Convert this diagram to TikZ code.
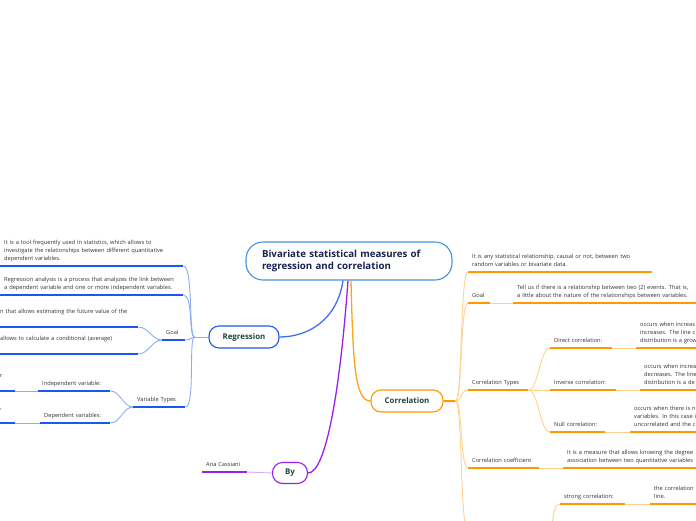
\documentclass[tikz,border=0pt]{standalone}
\usepackage{fontspec}
\setmainfont{Open Sans}
\usetikzlibrary{positioning,calc}

\definecolor{regblue}{RGB}{28,88,240}
\definecolor{reglight}{RGB}{140,172,248}
\definecolor{corrorange}{RGB}{255,153,0}
\definecolor{corrlight}{RGB}{255,210,145}
\definecolor{bypurple}{RGB}{155,30,240}
\definecolor{bylight}{RGB}{218,170,248}
\definecolor{titleblue}{RGB}{66,146,222}
\definecolor{titletext}{RGB}{22,34,80}
\definecolor{maintext}{RGB}{30,70,60}
\definecolor{leaftext}{RGB}{50,50,50}

\begin{document}
\begin{tikzpicture}[x=1pt,y=-1pt,
	leaf/.style={anchor=south west, inner xsep=4pt, inner ysep=2.4pt, align=left,
			font=\fontsize{5.7}{8.4}\selectfont, text=leaftext, execute at end node=\strut},
	topic/.style={draw, fill=white, rounded corners=10pt, line width=1.1pt,
			minimum height=22pt, inner xsep=2pt,
			font=\fontsize{7.9}{9}\selectfont\bfseries, text=maintext},
	regul/.style={regblue, line width=1.3pt},
	regline/.style={reglight, line width=0.9pt},
	corrul/.style={corrorange, line width=1.3pt},
	corrline/.style={corrlight, line width=0.9pt},
	byul/.style={bypurple, line width=1.3pt},
	byline/.style={bylight, line width=0.9pt}]

\useasboundingbox (0,0) rectangle (696,520);
\clip (0,0) rectangle (696,520);

\pgfmathsetmacro{\junc}{14}
\pgfmathsetmacro{\bend}{10}

% CENTRAL TOPIC
\node(title)[draw=titleblue, fill=white, line width=1.1pt, rounded corners=17pt,
			text width=174pt, inner xsep=16pt, minimum height=38pt, align=left,
			font=\fontsize{9.7}{12.8}\selectfont\bfseries, text=titletext]
			at (349,261) {Bivariate statistical measures of\\regression and correlation};

% MAIN TOPICS
\node(reg)[topic, draw=regblue, minimum width=70pt] at (244,337) {Regression};
\node(corr)[topic, draw=corrorange, minimum width=72pt] at (407,401) {Correlation};
\node(by)[topic, draw=bypurple, minimum width=35pt, minimum height=21pt] at (290,473) {By};

\draw[line width=1.3pt, regblue!85!white] ($(title.south)+(-6,0)$) .. controls +(-6,40) and +(28,0) .. (reg.east);
\draw[line width=1.3pt, bypurple] ($(title.south)+(-1,0)$) .. controls +(-8,110) and +(18,0) .. (by.east);
\draw[line width=1.3pt, corrorange!90!white] ($(title.south)+(2,0)$) .. controls +(2,80) and +(-16,0) .. (corr.west);

% REGRESSION
\node(reg1)[leaf, text width=175pt] at (0,266) {It is a tool frequently used in statistics, which allows to\\investigate the relationships between different quantitative\\dependent variables.};
\node(reg2)[leaf, text width=175pt] at (0,295) {Regression analysis is a process that analyzes the link between\\a dependent variable and one or more independent variables.};
\node(reggoal)[leaf, text width=15pt] at (162,340) {Goal};
\node(goal1)[leaf, text width=134pt] at (-4,327) {n that allows estimating the future value of the\\\mbox{}};
\node(goal2)[leaf, text width=134pt] at (-4,354) {allows to calculate a conditional (average)\\\mbox{}};
\node(vtypes)[leaf, text width=44pt] at (133,407) {Variable Types};
\node(indep)[leaf, text width=64pt] at (38,391) {Independent variable:};
\node(dep)[leaf, text width=62pt] at (40,423) {Dependent variables:};
\node(indepdef)[leaf, anchor=south east, text width=40pt] at (15,391) {\hspace*{29.4pt}r\\\mbox{}};
\node(depdef)[leaf, anchor=south east, text width=40pt] at (15,423) {\hspace*{29.4pt},\\\mbox{}};

\coordinate (regjunc) at ($(reg.west)+(-\junc,0)$);
\draw[regline] (regjunc) -- (reg.west);
\draw[regline] (reg1.south east) .. controls +(\bend,0) and +(-6,0) .. (regjunc);
\draw[regline] (reg2.south east) .. controls +(\bend,0) and +(-6,0) .. (regjunc);
\draw[regline] (reggoal.south east) .. controls +(6,0) and +(-4,0) .. (regjunc);
\draw[regline] (vtypes.south east) .. controls +(\bend,0) and +(-6,0) .. (regjunc);
\draw[regline] (goal1.south east) .. controls +(\bend,0) and +(-\bend,0) .. (reggoal.south west);
\draw[regline] (goal2.south east) .. controls +(\bend,0) and +(-\bend,0) .. (reggoal.south west);
\draw[regline] (indep.south east) .. controls +(\bend,0) and +(-\bend,0) .. (vtypes.south west);
\draw[regline] (dep.south east) .. controls +(\bend,0) and +(-\bend,0) .. (vtypes.south west);
\draw[regline] (indepdef.south east) -- (indep.south west);
\draw[regline] (depdef.south east) -- (dep.south west);

\draw[regul] (reg1.south west) -- (reg1.south east);
\draw[regul] (reg2.south west) -- (reg2.south east);
\draw[regul] (reggoal.south west) -- (reggoal.south east);
\draw[regul] (goal1.south west) -- (goal1.south east);
\draw[regul] (goal2.south west) -- (goal2.south east);
\draw[regul] (vtypes.south west) -- (vtypes.south east);
\draw[regul] (indep.south west) -- (indep.south east);
\draw[regul] (dep.south west) -- (dep.south east);
\draw[regul] (indepdef.south west) -- (indepdef.south east);
\draw[regul] (depdef.south west) -- (depdef.south east);

% CORRELATION
\node(corr1)[leaf, text width=176pt] at (468,272) {It is any statistical relationship, causal or not, between two\\random variables or bivariate data.};
\node(corrgoal)[leaf, text width=14pt] at (468,303) {Goal};
\node(goaltxt)[leaf, text width=220pt] at (513,303) {Tell us if there is a relationship between two (2) events. That is,\\a little about the nature of the relationships between variables.};
\node(corrtypes)[leaf, text width=52pt] at (468,390) {Correlation Types};
\node(direct)[leaf, text width=54pt] at (550,348) {Direct correlation:};
\node(directtxt)[leaf, text width=220pt] at (636,348) {occurs when increas\\increases. The line c\\distribution is a grow};
\node(inverse)[leaf, text width=58pt] at (550,390) {Inverse correlation:};
\node(inversetxt)[leaf, text width=220pt] at (640,390) {occurs when increa\\decreases. The line\\distribution is a de};
\node(null)[leaf, text width=47pt] at (550,432) {Null correlation:};
\node(nulltxt)[leaf, text width=220pt] at (630,432) {occurs when there is n\\variables. In this case i\\uncorrelated and the c};
\node(corrcoef)[leaf, text width=63pt] at (468,468) {Correlation coefficient};
\node(coeftxt)[leaf, text width=220pt] at (563,468) {It is a measure that allows knowing the degree\\association between two quantitative variables};
\node(strong)[leaf, text width=57pt] at (560,504) {strong correlation:};
\node(strongtxt)[leaf, text width=220pt] at (650,504) {the correlation\\line.};
\coordinate (degree) at (468,532);
\coordinate (degree-e) at (546,532);

\coordinate (corrjunc) at ($(corr.east)+(12,0)$);
\draw[corrul] (corr.east) -- (corrjunc);
\draw[corrline] (corrjunc) .. controls +(7,0) and +(-8,0) .. (corr1.south west);
\draw[corrline] (corrjunc) .. controls +(7,0) and +(-8,0) .. (corrgoal.south west);
\draw[corrline] (corrjunc) .. controls +(7,0) and +(-8,0) .. (corrtypes.south west);
\draw[corrline] (corrjunc) .. controls +(7,0) and +(-8,0) .. (corrcoef.south west);
\draw[corrline] (corrjunc) .. controls +(7,0) and +(-8,0) .. (degree);
\draw[corrline] (corrgoal.south east) -- (goaltxt.south west);
\draw[corrline] (corrtypes.south east) .. controls +(\bend,0) and +(-\bend,0) .. (direct.south west);
\draw[corrline] (corrtypes.south east) .. controls +(\bend,0) and +(-\bend,0) .. (inverse.south west);
\draw[corrline] (corrtypes.south east) .. controls +(\bend,0) and +(-\bend,0) .. (null.south west);
\draw[corrline] (direct.south east) -- (directtxt.south west);
\draw[corrline] (inverse.south east) -- (inversetxt.south west);
\draw[corrline] (null.south east) -- (nulltxt.south west);
\draw[corrline] (corrcoef.south east) -- (coeftxt.south west);
\draw[corrline] (degree-e) .. controls +(\bend,0) and +(-\bend,0) .. (strong.south west);
\draw[corrline] (strong.south east) -- (strongtxt.south west);

\draw[corrul] (corr1.south west) -- (corr1.south east);
\draw[corrul] (corrgoal.south west) -- (corrgoal.south east);
\draw[corrul] (goaltxt.south west) -- (goaltxt.south east);
\draw[corrul] (corrtypes.south west) -- (corrtypes.south east);
\draw[corrul] (direct.south west) -- (direct.south east);
\draw[corrul] (directtxt.south west) -- (directtxt.south east);
\draw[corrul] (inverse.south west) -- (inverse.south east);
\draw[corrul] (inversetxt.south west) -- (inversetxt.south east);
\draw[corrul] (null.south west) -- (null.south east);
\draw[corrul] (nulltxt.south west) -- (nulltxt.south east);
\draw[corrul] (corrcoef.south west) -- (corrcoef.south east);
\draw[corrul] (coeftxt.south west) -- (coeftxt.south east);
\draw[corrul] (strong.south west) -- (strong.south east);
\draw[corrul] (strongtxt.south west) -- (strongtxt.south east);

% BY
\node(ana)[leaf, text width=37pt] at (202,472) {Ana Cassiani};
\draw[byline] (ana.south east) -- (by.west);
\draw[byul] (ana.south west) -- (ana.south east);

\end{tikzpicture}
\end{document}
